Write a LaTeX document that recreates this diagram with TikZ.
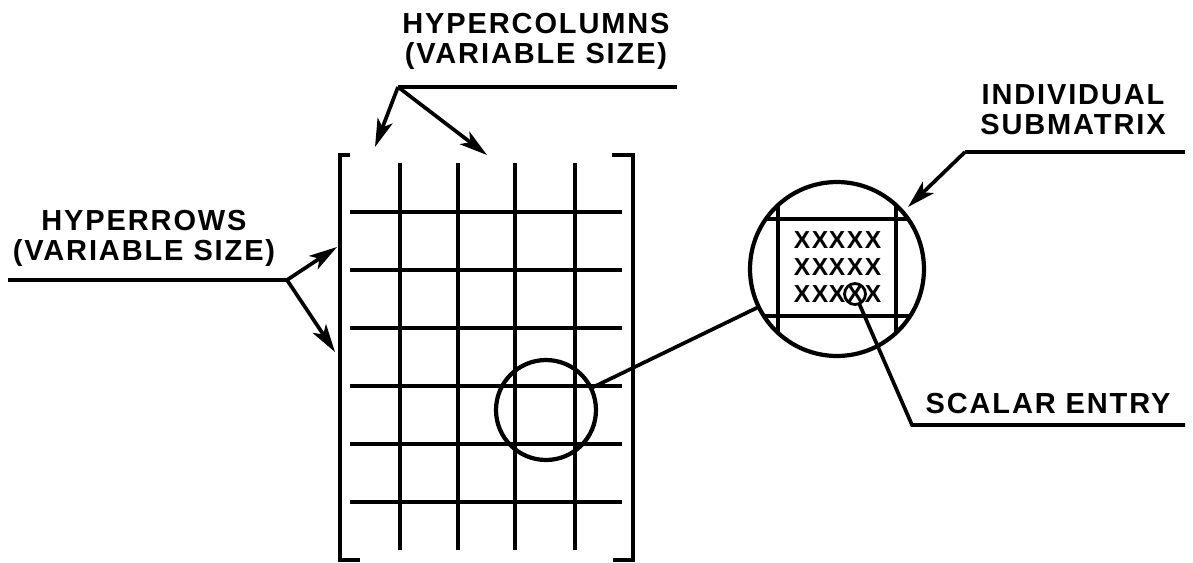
\documentclass[tikz,border=0pt]{standalone}
\usepackage{fontspec}
\setmainfont{Liberation Sans}
\newfontfamily\lblfont[LetterSpace=6.5]{Liberation Sans}
\usetikzlibrary{arrows.meta}
\tikzset{
  lbl/.style={font=\lblfont\bfseries\fontsize{16.5}{17}\selectfont, align=center, inner sep=0pt},
  entry/.style={font=\bfseries\fontsize{14}{14}\selectfont, inner sep=0pt},
  ring/.style={draw, circle, inner sep=0pt, outer sep=0pt, line width=2.4pt},
  ptr/.style={-{Stealth[length=16pt, width=9pt, inset=4pt]}},
}
\begin{document}
\begin{tikzpicture}[x=0.02cm, y=-0.02cm, line width=2.1pt]
    \useasboundingbox (0,0) rectangle (1193,562);
    % matrix of blocks
    \draw (350,155) -- (340,155) -- (340,560) -- (360,560);
    \draw (612,155) -- (633,155) -- (633,560) -- (613,560);
    \foreach \x in {400,458,515,575}
        \draw (\x,163) -- (\x,550);
    \foreach \y in {212,270,328,386,444,502}
        \draw (350,\y) -- (622,\y);
    % one block, enlarged
    \node [ring, minimum size=2cm] (blk) at (546,410) {};
    \node [ring, minimum size=3.48cm] (sub) at (837,269) {};
    \draw (blk) -- (sub);
    \begin{scope}
        \clip (sub.center) circle [radius=1.74cm];
        \draw (700,219) -- (1000,219);
        \draw (700,316) -- (1000,316);
        \draw (778,150) -- (778,400);
        \draw (896,150) -- (896,400);
    \end{scope}
    \foreach \r/\y in {1/240,2/267,3/294}
        \foreach \c/\x in {1/802,2/820,3/837,4/855,5/873}
            \node [entry] (x-\r-\c) at (\x,\y) {X};
    \node [ring, minimum size=0.42cm, line width=1.6pt] (scal) at (x-3-4) {};
    % labels
    \node [lbl] (hcol) at (536,41) {HYPERCOLUMNS\\(VARIABLE SIZE)};
    \node [lbl] (hrow) at (144,238) {HYPERROWS\\(VARIABLE SIZE)};
    \node [lbl] (indv) at (1073,110) {INDIVIDUAL\\SUBMATRIX};
    \node [lbl] (scalt) at (1048,404) {SCALAR ENTRY};
    % leaders
    \coordinate (hcol-e) at (677,87);
    \coordinate (hcol-k) at (398,87);
    \coordinate (hcol-a) at (375,147);
    \coordinate (hcol-b) at (487,155);
    \draw (hcol-e) -- (hcol-k);
    \draw [ptr] (hcol-k) -- (hcol-a);
    \draw [ptr] (hcol-k) -- (hcol-b);
    \coordinate (hrow-e) at (8,280);
    \coordinate (hrow-k) at (287,280);
    \coordinate (hrow-a) at (337,247);
    \coordinate (hrow-b) at (335,352);
    \draw (hrow-e) -- (hrow-k);
    \draw [ptr] (hrow-k) -- (hrow-a);
    \draw [ptr] (hrow-k) -- (hrow-b);
    \coordinate (indv-e) at (1185,152);
    \coordinate (indv-k) at (965,152);
    \coordinate (indv-a) at (908,207);
    \draw (indv-e) -- (indv-k);
    \draw [ptr] (indv-k) -- (indv-a);
    \coordinate (scal-k) at (912,425);
    \coordinate (scal-e) at (1185,425);
    \draw (scal) -- (scal-k) -- (scal-e);
\end{tikzpicture}
\end{document}
